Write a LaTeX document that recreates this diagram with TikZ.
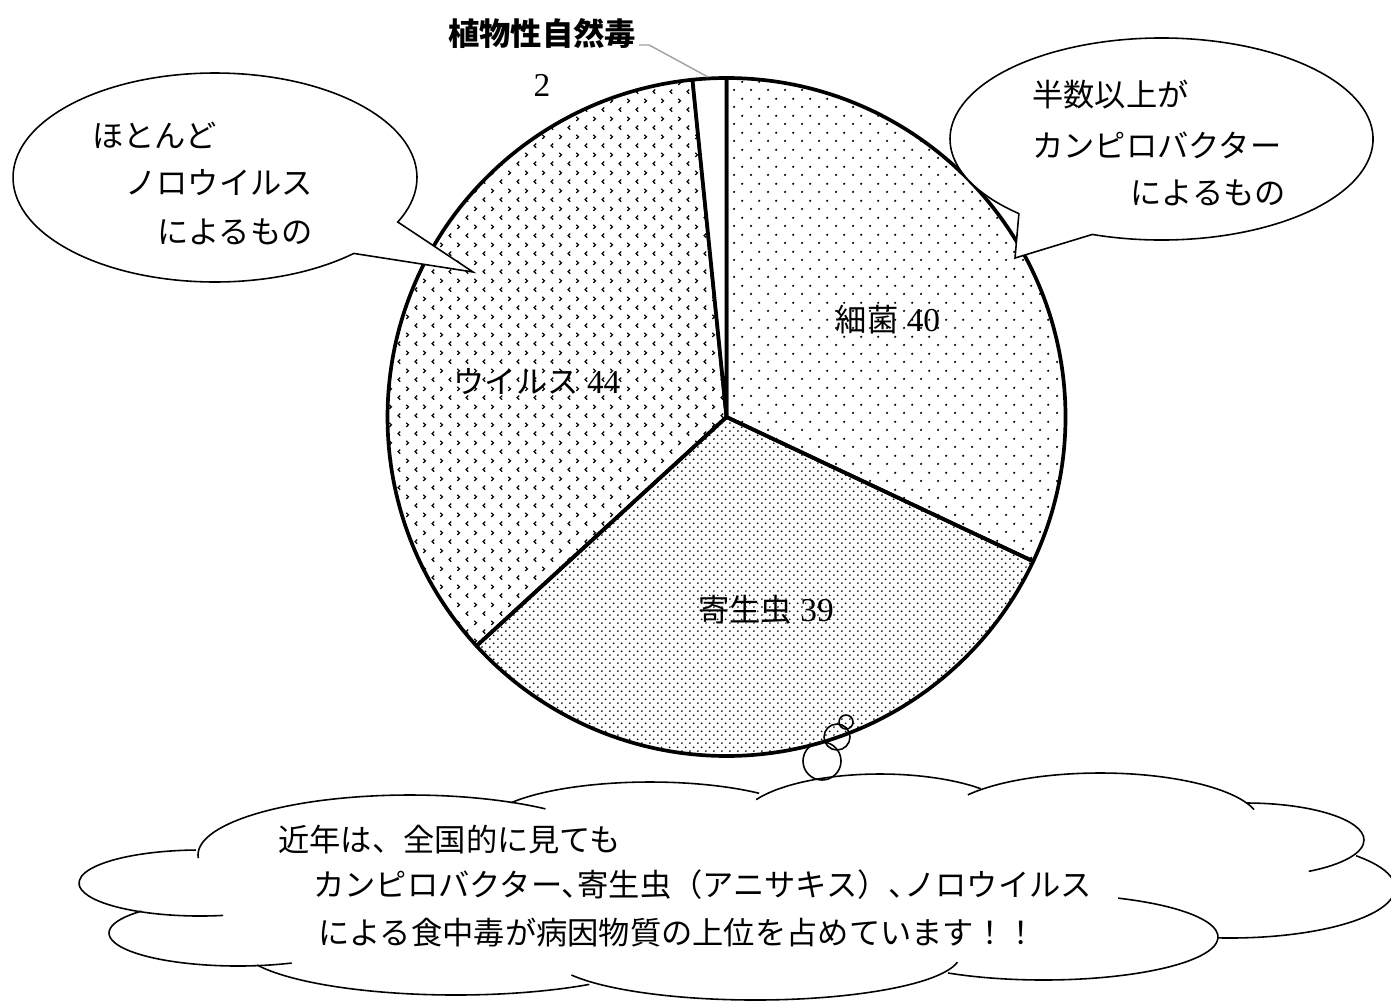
\documentclass[tikz,border=0pt]{standalone}
\definecolor{leadgray}{RGB}{160, 160, 160}
\usepackage{fontspec}
\setmainfont{Liberation Serif}
\newfontfamily\jpfont{Noto Sans CJK JP}
\usepackage{tikz}
\usetikzlibrary{patterns.meta}

% fill patterns of the three big slices
\tikzdeclarepattern{
  name=sparsedots, type=uncolored,
  bottom left={(0pt,0pt)}, top right={(9.45pt,9.45pt)},
  tile size={(9.45pt,9.45pt)},
  code={\fill (2.36pt,2.36pt) circle (0.72pt); \fill (7.09pt,7.09pt) circle (0.72pt);}
}
\tikzdeclarepattern{
  name=densedots, type=uncolored,
  bottom left={(0pt,0pt)}, top right={(4.72pt,4.72pt)},
  tile size={(4.72pt,4.72pt)},
  code={\fill (1.18pt,1.18pt) circle (0.6pt); \fill (3.54pt,3.54pt) circle (0.6pt);}
}
\tikzdeclarepattern{
  name=chevrons, type=uncolored,
  bottom left={(0pt,0pt)}, top right={(9.8pt,10.4pt)},
  tile size={(9.8pt,10.4pt)},
  code={
    \draw[line width=0.7pt] (3.1pt,3.8pt) -- (1.8pt,2.6pt) -- (3.1pt,1.4pt);
    \draw[line width=0.7pt] (6.7pt,9pt) -- (8pt,7.8pt) -- (6.7pt,6.6pt);
  }
}

\tikzset{
  pieline/.style={draw=black, line width=2.1pt, line join=round},
  calloutbox/.style={draw=black, fill=white, line width=0.9pt, line join=miter},
  cloudline/.style={draw=black, line width=0.9pt},
  bubble/.style={draw=black, line width=0.9pt},
  jptext/.style={font=\jpfont\fontsize{17.8pt}{22pt}\selectfont, inner sep=0pt, anchor=west},
  slicelabel/.style={font=\fontsize{19pt}{22pt}\selectfont, inner sep=0pt}
}

\begin{document}
\begin{tikzpicture}[x=0.02cm, y=-0.02cm]
  \useasboundingbox (0,0) rectangle (1391,1001);

  % Pie chart (40 + 39 + 44 + 2 = 125)
  \begin{scope}[shift={(726.5,417)}]
    \draw[pieline, pattern=sparsedots] (0,0) -- (-90:339) arc[start angle=-90, end angle=25.2, radius=339] -- cycle;
    \draw[pieline, pattern=densedots] (0,0) -- (25.2:339) arc[start angle=25.2, end angle=137.52, radius=339] -- cycle;
    \draw[pieline, pattern=chevrons] (0,0) -- (137.52:339) arc[start angle=137.52, end angle=264.24, radius=339] -- cycle;
    \draw[pieline, fill=white] (0,0) -- (264.24:339) arc[start angle=264.24, end angle=270, radius=339] -- cycle;
  \end{scope}

  % Slice labels
  \node[slicelabel] (bactlabel) at (888,320) {{\jpfont\fontsize{17.8pt}{22pt}\selectfont 細菌} 40};
  \node[slicelabel] (parasitelabel) at (766,610) {{\jpfont\fontsize{17.8pt}{22pt}\selectfont 寄生虫} 39};
  \node[slicelabel] (viruslabel) at (537,382) {{\jpfont\fontsize{17.8pt}{22pt}\selectfont ウイルス} 44};
  \node[slicelabel, font=\jpfont\bfseries\fontsize{17.8pt}{22pt}\selectfont] (plantlabel) at (542,33) {植物性自然毒};
  \node[slicelabel] (plantvalue) at (542,85) {2};
  \coordinate (plantedge) at (708,77);
  \draw[leadgray, line width=0.8pt] (plantlabel.base east) ++(3,0) -- ++(10,0) -- (plantedge);

  % Callout left
  \coordinate (lefttip) at (473,272);
  \draw[calloutbox] (215,177.5) ++({202*cos(46.6)},{104.5*sin(46.6)}) arc[start angle=46.6, end angle=385.2, x radius=202, y radius=104.5] -- (lefttip) -- cycle;
  \node[jptext] (leftline1) at (92,135) {ほとんど};
  \node[jptext] (leftline2) at (125,183) {ノロウイルス};
  \node[jptext] (leftline3) at (157,232) {によるもの};

  % Callout right
  \coordinate (righttip) at (1015,258);
  \draw[calloutbox] (1161.5,139) ++({211.5*cos(109.1)},{101*sin(109.1)}) arc[start angle=109.1, end angle=-227.6, x radius=211.5, y radius=101] -- (righttip) -- cycle;
  \node[jptext] (rightline1) at (1032,95) {半数以上が};
  \node[jptext] (rightline2) at (1032,145) {カンピロバクター};
  \node[jptext] (rightline3) at (1130,193) {によるもの};

  % Cloud: one elliptic arc per puff
  \foreach \cx/\cy/\rx/\ry/\a/\b in {
      410/855/212/60/177/309.7, 650/827/165/45/212.7/311.4,
      880/822/140/48/207.8/316.1, 1100/823/160/50/214.3/344.3,
      1246/840/118/37/270/417.9, 1230/888/165/50/-40.2/94.2,
      1043.5/937/174.5/43/-64.7/123.2, 755/955/205/45/9.1/153.6,
      455.8/945/216.8/50/52/156.4, 238/933/129/33/65.4/221.5,
      200/883/121/33/79/268}
    \draw[cloudline] (\cx,\cy) ++({\rx*cos(\a)},{\ry*sin(\a)}) arc[start angle=\a, end angle=\b, x radius=\rx, y radius=\ry];

  % Thought bubbles
  \draw[bubble] (822,761) circle (19);
  \draw[bubble] (837,737) circle (13);
  \draw[bubble] (846,722) circle (7);

  \node[jptext] (cloudline1) at (278,840) {近年は、全国的に見ても};
  \node[jptext] (cloudline2) at (313,885) {カンピロバクター、\kern-0.5em 寄生虫（アニサキス）、\kern-0.5em ノロウイルス};
  \node[jptext] (cloudline3) at (318,933) {による食中毒が病因物質の上位を占めています！！};
\end{tikzpicture}
\end{document}
